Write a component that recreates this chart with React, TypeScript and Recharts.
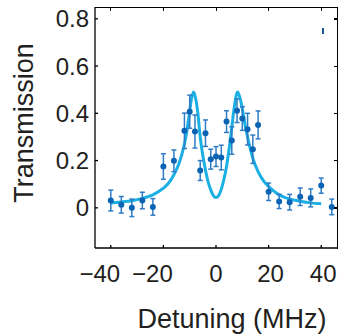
import React from 'react';
import {
  ComposedChart,
  Line,
  Scatter,
  ErrorBar,
  XAxis,
  YAxis,
  Label
} from 'recharts';

// measured transmission vs detuning
const detuning = [
  -40, -36, -32, -28, -24, -20, -16, -12, -10, -8, -6, -4, -2, 0, 2, 4, 6, 8,
  10, 12, 14, 16, 20, 24, 28, 32, 36, 40, 44
];
const transmission = [
  0.031, 0.013, 0.0, 0.031, 0.004, 0.175, 0.199, 0.326, 0.407, 0.323, 0.158,
  0.316, 0.206, 0.217, 0.213, 0.365, 0.285, 0.411, 0.378, 0.333, 0.248, 0.351,
  0.068, 0.027, 0.024, 0.047, 0.042, 0.094, 0.004
];
const errors = [
  0.044, 0.035, 0.037, 0.035, 0.035, 0.054, 0.046, 0.075, 0.07, 0.07, 0.042,
  0.056, 0.042, 0.042, 0.052, 0.046, 0.058, 0.05, 0.05, 0.067, 0.06, 0.059,
  0.037, 0.03, 0.033, 0.037, 0.038, 0.032, 0.033
];

// fitted curve
const fitX = [
  -40, -36, -32, -28, -24, -20, -18, -16, -14, -12, -11, -10, -9.5, -8.6, -8,
  -7, -6, -5, -4, -3, -2, -1, 0, 1, 2, 3, 4, 5, 6, 7, 8.2, 9, 10, 11, 12, 14,
  16, 18, 20, 24, 28, 32, 36, 40
];
const fitY = [
  0.02, 0.025, 0.03, 0.04, 0.055, 0.083, 0.105, 0.14, 0.19, 0.27, 0.33, 0.41,
  0.45, 0.49, 0.475, 0.41, 0.3, 0.22, 0.16, 0.11, 0.076, 0.052, 0.044, 0.052,
  0.078, 0.12, 0.175, 0.25, 0.34, 0.43, 0.49, 0.47, 0.42, 0.355, 0.3, 0.21,
  0.153, 0.115, 0.09, 0.055, 0.037, 0.028, 0.021, 0.017
];

const xTicks = [-40, -20, 0, 20, 40];
const yTicks = [0, 0.2, 0.4, 0.6, 0.8];
const X_DOMAIN: [number, number] = [-46, 46];
const Y_DOMAIN: [number, number] = [-0.17, 0.85];

const points = detuning.map((x, i) => ({ x, y: transmission[i], err: errors[i] }));
const fit = fitX.map((x, i) => ({ x, y: fitY[i] }));

const W = 342;
const H = 335;
const MARGIN = { top: 7, right: 5, left: 0, bottom: 0 };
const Y_AXIS_W = 95;
const X_AXIS_H = 87;
// plot box, for the top/right frame overlay
const BOX = {
  left: MARGIN.left + Y_AXIS_W,
  top: MARGIN.top,
  width: W - MARGIN.left - MARGIN.right - Y_AXIS_W,
  height: H - MARGIN.top - MARGIN.bottom - X_AXIS_H
};

const FONT = '"Liberation Sans", Arial, sans-serif';
const TEXT = '#231f20';

const XTick = (props: any) => {
  const { x, y, payload } = props;
  const v = payload.value as number;
  const dx = v < 0 ? -11 : v > 0 ? 2 : 0;
  const label = v < 0 ? `\u2212${Math.abs(v)}` : `${v}`;
  return (
    <text
      x={x + dx}
      y={y}
      dy="0.71em"
      textAnchor="middle"
      fill={TEXT}
      fontSize={24}
      fontFamily={FONT}
    >
      {label}
    </text>
  );
};

const Frame = () => {
  const sx = (v: number) => BOX.left + ((v - X_DOMAIN[0]) / (X_DOMAIN[1] - X_DOMAIN[0])) * BOX.width;
  const sy = (v: number) => BOX.top + ((Y_DOMAIN[1] - v) / (Y_DOMAIN[1] - Y_DOMAIN[0])) * BOX.height;
  const right = BOX.left + BOX.width;
  return (
    <>
      {/* top edge */}
      <div style={{ position: 'absolute', left: BOX.left - 0.5, top: BOX.top - 0.5, width: BOX.width + 1, height: 1.3, background: '#000' }} />
      {/* right edge */}
      <div style={{ position: 'absolute', left: right - 0.5, top: BOX.top - 0.5, width: 1.3, height: BOX.height + 1, background: '#000' }} />
      {xTicks.map((t) => (
        <div key={`t${t}`} style={{ position: 'absolute', left: sx(t) - 0.5, top: BOX.top, width: 1.2, height: 3.5, background: '#000' }} />
      ))}
      {yTicks.map((t) => (
        <div key={`r${t}`} style={{ position: 'absolute', left: right - 3, top: sy(t) - 0.5, width: 3, height: 1.2, background: '#000' }} />
      ))}
    </>
  );
};

export default function App() {
  return (
    <div style={{ position: 'absolute', left: 0, top: 0, width: W, height: H, background: '#fff' }}>
      <ComposedChart width={W} height={H} margin={MARGIN}>
        <XAxis
          type="number"
          dataKey="x"
          domain={X_DOMAIN}
          ticks={xTicks}
          allowDataOverflow
          height={X_AXIS_H}
          stroke="#000"
          strokeWidth={1.3}
          tickSize={-3}
          tickMargin={20}
          tick={<XTick />}
        >
          <Label
            content={() => (
              <text
                x={232}
                y={328}
                textAnchor="middle"
                fill={TEXT}
                fontSize={27}
                fontFamily={FONT}
              >
                Detuning (MHz)
              </text>
            )}
          />
        </XAxis>
        <YAxis
          type="number"
          domain={Y_DOMAIN}
          ticks={yTicks}
          allowDataOverflow
          width={Y_AXIS_W}
          stroke="#000"
          strokeWidth={1.3}
          tickSize={-3}
          tickMargin={9}
          tickFormatter={(v: number) => (v === 0 ? '0' : v.toFixed(1))}
          tick={{ fill: TEXT, fontSize: 24, fontFamily: FONT }}
        >
          <Label
            content={() => (
              <text
                x={33}
                y={123}
                transform="rotate(-90 33 123)"
                textAnchor="middle"
                fill={TEXT}
                fontSize={27}
                fontFamily={FONT}
              >
                Transmission
              </text>
            )}
          />
        </YAxis>
        <Line
          data={fit}
          dataKey="y"
          type="monotone"
          stroke="#1ab0e3"
          strokeWidth={3}
          dot={false}
          activeDot={false}
          isAnimationActive={false}
        />
        <Scatter
          data={points}
          dataKey="y"
          fill="#0b63b3"
          shape={(p: any) => <circle cx={p.cx} cy={p.cy} r={3} fill="#0b63b3" />}
          isAnimationActive={false}
        >
          <ErrorBar
            dataKey="err"
            direction="y"
            width={2.5}
            stroke="#2f7cc6"
            strokeWidth={1.5}
            isAnimationActive={false}
          />
        </Scatter>
      </ComposedChart>
      <Frame />
      <div
        style={{ position: 'absolute', left: 322, top: 28, width: 2, height: 6, background: '#1d5598' }}
      />
    </div>
  );
}
